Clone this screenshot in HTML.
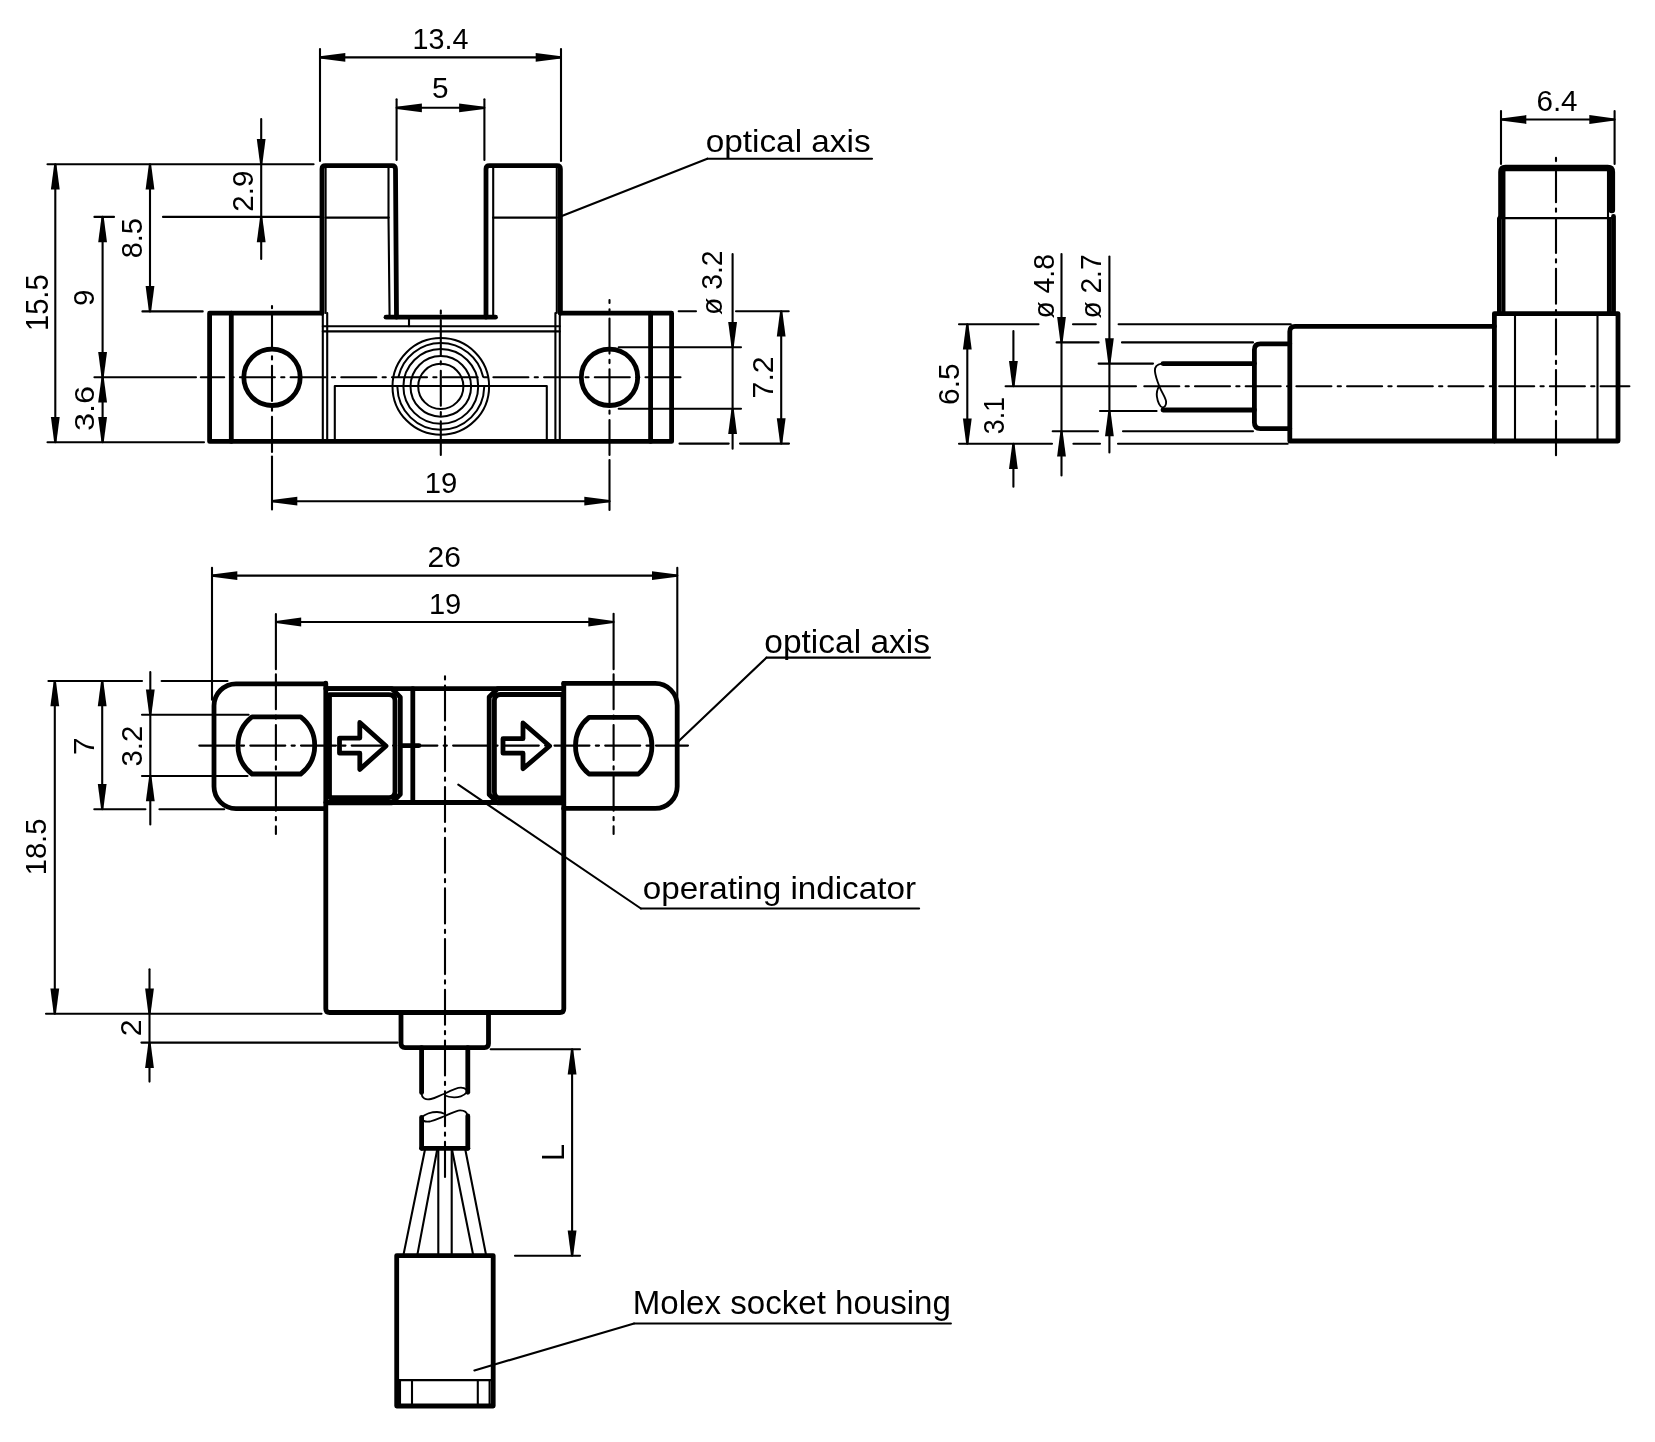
<!DOCTYPE html>
<html><head><meta charset="utf-8"><style>
html,body{margin:0;padding:0;background:#fff;width:1655px;height:1442px;overflow:hidden}
svg{display:block;will-change:transform}
svg line,svg path,svg circle,svg polyline{stroke:#000;fill:none;stroke-linecap:round;stroke-linejoin:round}
svg .f{fill:#000;stroke:none}
svg .t{fill:#000;font-family:"Liberation Sans",sans-serif}
</style></head><body>
<svg width="1655" height="1442" viewBox="0 0 1655 1442">
<line x1="320" y1="49" x2="320" y2="161" stroke-width="2.1"/>
<line x1="561" y1="49" x2="561" y2="161" stroke-width="2.1"/>
<line x1="320" y1="57.4" x2="561" y2="57.4" stroke-width="2.1"/>
<polygon class="f" points="320,56.3 320,58.5 345.3,61.8 345.3,53"/>
<polygon class="f" points="561,56.3 561,58.5 535.7,61.8 535.7,53"/>
<text class="t" transform="translate(412.55,48.7) scale(0.9654,1)" font-size="29.74">13.4</text>
<line x1="396.6" y1="99.2" x2="396.6" y2="160" stroke-width="2.1"/>
<line x1="484.4" y1="99.2" x2="484.4" y2="160" stroke-width="2.1"/>
<line x1="396.6" y1="107.8" x2="484.4" y2="107.8" stroke-width="2.1"/>
<polygon class="f" points="396.6,106.7 396.6,108.9 421.9,112.2 421.9,103.4"/>
<polygon class="f" points="484.4,106.7 484.4,108.9 459.1,112.2 459.1,103.4"/>
<text class="t" transform="translate(432.01,98.4) scale(1.0002,1)" font-size="29.68">5</text>
<line x1="47.5" y1="164.2" x2="313.6" y2="164.2" stroke-width="2.1"/>
<line x1="47.5" y1="442.3" x2="204" y2="442.3" stroke-width="2.1"/>
<line x1="55.3" y1="164.2" x2="55.3" y2="442.3" stroke-width="2.1"/>
<polygon class="f" points="54.2,164.2 56.4,164.2 59.7,189.5 50.9,189.5"/>
<polygon class="f" points="54.2,442.3 56.4,442.3 59.7,417 50.9,417"/>
<text class="t" transform="translate(47.89,331.09) rotate(-90) scale(0.9511,1)" font-size="30.68">15.5</text>
<line x1="142.4" y1="311.4" x2="202.7" y2="311.4" stroke-width="2.1"/>
<line x1="150" y1="164.2" x2="150" y2="311.4" stroke-width="2.1"/>
<polygon class="f" points="148.9,164.2 151.1,164.2 154.4,189.5 145.6,189.5"/>
<polygon class="f" points="148.9,311.4 151.1,311.4 154.4,286.1 145.6,286.1"/>
<text class="t" transform="translate(142.41,258.33) rotate(-90) scale(0.9907,1)" font-size="29.26">8.5</text>
<line x1="94.4" y1="216.9" x2="114" y2="216.9" stroke-width="2.1"/>
<line x1="163" y1="216.9" x2="321" y2="216.9" stroke-width="2.1"/>
<line x1="102.6" y1="216.9" x2="102.6" y2="442.3" stroke-width="2.1"/>
<polygon class="f" points="101.5,216.9 103.7,216.9 107,242.2 98.2,242.2"/>
<polygon class="f" points="101.5,377.3 103.7,377.3 107,352 98.2,352"/>
<polygon class="f" points="101.5,377.3 103.7,377.3 107,402.6 98.2,402.6"/>
<polygon class="f" points="101.5,442.3 103.7,442.3 107,417 98.2,417"/>
<text class="t" transform="translate(93.51,306.11) rotate(-90) scale(1.0273,1)" font-size="28.83">9</text>
<text class="t" transform="translate(93.53,431.12) rotate(-90) scale(1.1887,1)" font-size="27.42">3.6</text>
<line x1="261.2" y1="119" x2="261.2" y2="259" stroke-width="2.1"/>
<polygon class="f" points="260.1,164.2 262.3,164.2 265.6,138.9 256.8,138.9"/>
<polygon class="f" points="260.1,216.9 262.3,216.9 265.6,242.2 256.8,242.2"/>
<text class="t" transform="translate(252.7,211.67) rotate(-90) scale(0.9891,1)" font-size="29.82">2.9</text>
<line x1="618.7" y1="347.2" x2="741" y2="347.2" stroke-width="2.1"/>
<line x1="618.7" y1="408.7" x2="741" y2="408.7" stroke-width="2.1"/>
<line x1="732.6" y1="254" x2="732.6" y2="448.7" stroke-width="2.1"/>
<polygon class="f" points="731.5,347.2 733.7,347.2 737,321.9 728.2,321.9"/>
<polygon class="f" points="731.5,408.7 733.7,408.7 737,434 728.2,434"/>
<text class="t" transform="translate(722.41,314.94) rotate(-90) scale(0.9593,1)" font-size="29.55">ø 3.2</text>
<line x1="678.7" y1="311.2" x2="696" y2="311.2" stroke-width="2.1"/>
<line x1="736" y1="311.2" x2="788.7" y2="311.2" stroke-width="2.1"/>
<line x1="679.5" y1="443.6" x2="728.7" y2="443.6" stroke-width="2.1"/>
<line x1="740" y1="443.6" x2="789" y2="443.6" stroke-width="2.1"/>
<line x1="781.2" y1="311.2" x2="781.2" y2="443.6" stroke-width="2.1"/>
<polygon class="f" points="780.1,311.2 782.3,311.2 785.6,336.5 776.8,336.5"/>
<polygon class="f" points="780.1,443.6 782.3,443.6 785.6,418.3 776.8,418.3"/>
<text class="t" transform="translate(773.1,398.39) rotate(-90) scale(1.0230,1)" font-size="29.53">7.2</text>
<line x1="272" y1="501.2" x2="609.6" y2="501.2" stroke-width="2.1"/>
<polygon class="f" points="272,500.1 272,502.3 297.3,505.6 297.3,496.8"/>
<polygon class="f" points="609.6,500.1 609.6,502.3 584.3,505.6 584.3,496.8"/>
<text class="t" transform="translate(424.8,492.7) scale(0.9869,1)" font-size="29.68">19</text>
<text class="t" transform="translate(705.68,152.4) scale(1.0421,1)" font-size="32.00">optical axis</text>
<line x1="561.2" y1="216.2" x2="707.3" y2="158.7" stroke-width="2.1"/>
<line x1="707.3" y1="158.7" x2="872" y2="158.7" stroke-width="2.1"/>
<path d="M322,313.2 L322,169 Q322,165.6 325.4,165.6 L392,165.6 Q395.4,165.6 395.5,169 L396.5,317.2" stroke-width="4.8"/>
<path d="M486,317.2 L486,169 Q486,165.6 489.4,165.6 L557,165.6 Q560.4,165.6 560.4,169 L560.4,313.2" stroke-width="4.8"/>
<line x1="386" y1="317.2" x2="495.5" y2="317.2" stroke-width="4.8"/>
<path d="M322,313.2 L209.6,313.2 L209.6,441.4 L671.6,441.4 L671.6,313.2 L560.4,313.2" stroke-width="4.8"/>
<line x1="231.3" y1="313.2" x2="231.3" y2="441.4" stroke-width="4.8"/>
<line x1="650.6" y1="313.2" x2="650.6" y2="441.4" stroke-width="4.8"/>
<circle cx="272" cy="377.3" r="28.2" stroke-width="4.8"/>
<circle cx="609.5" cy="377.3" r="28.2" stroke-width="4.8"/>
<line x1="325.6" y1="167" x2="325.6" y2="313" stroke-width="2.1"/>
<line x1="325.6" y1="217.6" x2="388.5" y2="217.6" stroke-width="2.1"/>
<line x1="388.5" y1="167" x2="388.5" y2="217.6" stroke-width="2.1"/>
<line x1="388.5" y1="217.6" x2="389.6" y2="317" stroke-width="2.1"/>
<line x1="556.8" y1="167" x2="556.8" y2="313" stroke-width="2.1"/>
<line x1="493" y1="217.6" x2="556.8" y2="217.6" stroke-width="2.1"/>
<line x1="493.2" y1="167" x2="493.2" y2="317" stroke-width="2.1"/>
<line x1="322.8" y1="313" x2="322.8" y2="441" stroke-width="2.1"/>
<line x1="327.2" y1="313" x2="327.2" y2="441" stroke-width="2.1"/>
<line x1="555.4" y1="313" x2="555.4" y2="441" stroke-width="2.1"/>
<line x1="559.8" y1="313" x2="559.8" y2="441" stroke-width="2.1"/>
<line x1="322.8" y1="326.2" x2="559.8" y2="326.2" stroke-width="2.1"/>
<line x1="322.8" y1="331.4" x2="559.8" y2="331.4" stroke-width="2.1"/>
<line x1="409" y1="317" x2="409" y2="326.2" stroke-width="2.1"/>
<path d="M334.8,441 L334.8,386 L546.8,386 L546.8,441" stroke-width="2.1"/>
<circle cx="440.8" cy="386.4" r="48.3" stroke-width="2.0"/>
<circle cx="440.8" cy="386.4" r="37.4" stroke-width="2.0"/>
<circle cx="440.8" cy="386.4" r="30.3" stroke-width="2.0"/>
<circle cx="440.8" cy="386.4" r="22.6" stroke-width="2.0"/>
<path d="M484.19,387.27 A43.4,43.4 0 0 1 397.41,387.27" stroke-width="2.0"/>
<path d="M398.49,376.75 A43.4,43.4 0 0 1 483.11,376.75" stroke-width="2.0"/>
<line x1="94.4" y1="377.3" x2="196" y2="377.3" stroke-width="2.1"/>
<line x1="200.8" y1="377.3" x2="681" y2="377.3" stroke-width="2.1" stroke-dasharray="35 6.3 3.2 6.2" stroke-dashoffset="11.6"/>
<line x1="272" y1="306" x2="272" y2="452" stroke-width="2.1" stroke-dasharray="35.35 6.36 3.23 6.26" stroke-dashoffset="42.7"/>
<line x1="272" y1="456.6" x2="272" y2="509.4" stroke-width="2.1"/>
<line x1="609.5" y1="300" x2="609.5" y2="455.4" stroke-width="2.1" stroke-dasharray="35 6.3 3.2 6.2" stroke-dashoffset="32.1"/>
<line x1="609.5" y1="460" x2="609.5" y2="510" stroke-width="2.1"/>
<line x1="440.8" y1="309" x2="440.8" y2="455" stroke-width="2.1" stroke-dasharray="35 6.3 3.2 6.2" stroke-dashoffset="39.7"/>
<line x1="1501" y1="111" x2="1501" y2="164" stroke-width="2.1"/>
<line x1="1614.6" y1="111" x2="1614.6" y2="164" stroke-width="2.1"/>
<line x1="1501" y1="119.5" x2="1614.6" y2="119.5" stroke-width="2.1"/>
<polygon class="f" points="1501,118.4 1501,120.6 1526.3,123.9 1526.3,115.1"/>
<polygon class="f" points="1614.6,118.4 1614.6,120.6 1589.3,123.9 1589.3,115.1"/>
<text class="t" transform="translate(1536.42,110.8) scale(0.9891,1)" font-size="29.96">6.4</text>
<path d="M1501.5,216 L1501.5,172 Q1501.5,168 1505.5,168 L1607.8,168 Q1611.8,168 1611.8,172 L1611.8,210" stroke-width="6.6"/>
<line x1="1504.4" y1="168" x2="1504.4" y2="313" stroke-width="2.1"/>
<line x1="1608" y1="168" x2="1608" y2="313" stroke-width="2.1"/>
<line x1="1502" y1="218.1" x2="1611" y2="218.1" stroke-width="2.1"/>
<path d="M1501.5,216 L1499.4,218.5 L1499.4,313.5" stroke-width="4.8"/>
<path d="M1613.5,216.5 L1613.5,313.5" stroke-width="4.8"/>
<line x1="1503" y1="218" x2="1503" y2="313" stroke-width="2.1"/>
<line x1="1610" y1="218" x2="1610" y2="313" stroke-width="2.1"/>
<path d="M1494.4,313.6 L1618,313.6 L1618,441 L1494.4,441 Z" stroke-width="4.8"/>
<line x1="1515" y1="313.6" x2="1515" y2="441" stroke-width="2.1"/>
<line x1="1597.5" y1="313.6" x2="1597.5" y2="441" stroke-width="2.1"/>
<path d="M1494.4,326.3 L1295,326.3 Q1289.8,326.3 1289.8,331.5 L1289.8,441 L1494.4,441" stroke-width="4.8"/>
<path d="M1289.8,343.8 L1260.4,343.8 Q1254.4,343.8 1254.4,349.8 L1254.4,422.6 Q1254.4,428.6 1260.4,428.6 L1289.8,428.6" stroke-width="4.8"/>
<line x1="1163" y1="363.6" x2="1254.4" y2="363.6" stroke-width="4.8"/>
<line x1="1163" y1="410" x2="1254.4" y2="410" stroke-width="4.8"/>
<path d="M1161.8,363.6 C1156.5,364.3 1154.6,367 1154.9,371 C1155.4,376.5 1157.6,382 1159.6,387 C1161.8,392.5 1165.6,397.5 1166.1,401.5 C1166.5,405.5 1164.3,407.6 1162.5,407.4 C1160,407.1 1157.6,402 1156.9,396.5 C1156.4,392 1157.6,388.5 1159.4,386" stroke-width="1.9"/>
<line x1="1556" y1="156.7" x2="1556" y2="455.2" stroke-width="2.1" stroke-dasharray="35 6.3 3.2 6.2" stroke-dashoffset="40.1"/>
<line x1="1005.6" y1="386.3" x2="1136" y2="386.3" stroke-width="2.1"/>
<line x1="1144.3" y1="386.3" x2="1629.4" y2="386.3" stroke-width="2.1" stroke-dasharray="35 6.3 3.2 6.2" stroke-dashoffset="0"/>
<line x1="959" y1="324.2" x2="1038.5" y2="324.2" stroke-width="2.1"/>
<line x1="1073" y1="324.2" x2="1095.8" y2="324.2" stroke-width="2.1"/>
<line x1="1118.6" y1="324.2" x2="1290.8" y2="324.2" stroke-width="2.1"/>
<line x1="959" y1="443.7" x2="1052" y2="443.7" stroke-width="2.1"/>
<line x1="1073.4" y1="443.7" x2="1100" y2="443.7" stroke-width="2.1"/>
<line x1="1118" y1="443.7" x2="1287.7" y2="443.7" stroke-width="2.1"/>
<line x1="1056.6" y1="342.4" x2="1098.6" y2="342.4" stroke-width="2.1"/>
<line x1="1122" y1="342.4" x2="1253" y2="342.4" stroke-width="2.1"/>
<line x1="1052.7" y1="431.2" x2="1098" y2="431.2" stroke-width="2.1"/>
<line x1="1123" y1="431.2" x2="1253" y2="431.2" stroke-width="2.1"/>
<line x1="1098.6" y1="363.6" x2="1153" y2="363.6" stroke-width="2.1"/>
<line x1="1100" y1="411" x2="1156.6" y2="411" stroke-width="2.1"/>
<line x1="967.3" y1="324.2" x2="967.3" y2="443.7" stroke-width="2.1"/>
<polygon class="f" points="966.2,324.2 968.4,324.2 971.7,349.5 962.9,349.5"/>
<polygon class="f" points="966.2,443.7 968.4,443.7 971.7,418.4 962.9,418.4"/>
<text class="t" transform="translate(959.3,405) rotate(-90) scale(1.0081,1)" font-size="29.68">6.5</text>
<line x1="1013.4" y1="331" x2="1013.4" y2="386.3" stroke-width="2.1"/>
<polygon class="f" points="1012.3,386.3 1014.5,386.3 1017.8,361 1009,361"/>
<line x1="1013.4" y1="443.7" x2="1013.4" y2="486.8" stroke-width="2.1"/>
<polygon class="f" points="1012.3,443.7 1014.5,443.7 1017.8,469 1009,469"/>
<text class="t" transform="translate(1004.21,434.21) rotate(-90) scale(0.9256,1)" font-size="28.98">3.1</text>
<line x1="1061.5" y1="254" x2="1061.5" y2="475.4" stroke-width="2.1"/>
<polygon class="f" points="1060.4,342.4 1062.6,342.4 1065.9,317.1 1057.1,317.1"/>
<polygon class="f" points="1060.4,431.2 1062.6,431.2 1065.9,456.5 1057.1,456.5"/>
<text class="t" transform="translate(1053.91,318.54) rotate(-90) scale(0.9621,1)" font-size="29.41">ø 4.8</text>
<line x1="1109.4" y1="256.5" x2="1109.4" y2="452.4" stroke-width="2.1"/>
<polygon class="f" points="1108.3,363.6 1110.5,363.6 1113.8,338.3 1105,338.3"/>
<polygon class="f" points="1108.3,411 1110.5,411 1113.8,436.3 1105,436.3"/>
<text class="t" transform="translate(1101.41,318.53) rotate(-90) scale(0.9561,1)" font-size="29.41">ø 2.7</text>
<line x1="212" y1="567.7" x2="212" y2="699.8" stroke-width="2.1"/>
<line x1="677.3" y1="567.8" x2="677.3" y2="699.6" stroke-width="2.1"/>
<line x1="212" y1="575.6" x2="677.3" y2="575.6" stroke-width="2.1"/>
<polygon class="f" points="212,574.5 212,576.7 237.3,580 237.3,571.2"/>
<polygon class="f" points="677.3,574.5 677.3,576.7 652,580 652,571.2"/>
<text class="t" transform="translate(427.6,566.9) scale(0.9910,1)" font-size="30.25">26</text>
<line x1="275.9" y1="622" x2="613.6" y2="622" stroke-width="2.1"/>
<polygon class="f" points="275.9,620.9 275.9,623.1 301.2,626.4 301.2,617.6"/>
<polygon class="f" points="613.6,620.9 613.6,623.1 588.3,626.4 588.3,617.6"/>
<line x1="275.9" y1="614" x2="275.9" y2="669.3" stroke-width="2.1"/>
<line x1="613.6" y1="613.7" x2="613.6" y2="669.3" stroke-width="2.1"/>
<text class="t" transform="translate(428.92,613.7) scale(0.9801,1)" font-size="29.68">19</text>
<line x1="48.4" y1="681" x2="142" y2="681" stroke-width="2.1"/>
<line x1="161.6" y1="681" x2="227.5" y2="681" stroke-width="2.1"/>
<line x1="46" y1="1013.8" x2="321.5" y2="1013.8" stroke-width="2.1"/>
<line x1="54.8" y1="681" x2="54.8" y2="1013.8" stroke-width="2.1"/>
<polygon class="f" points="53.7,681 55.9,681 59.2,706.3 50.4,706.3"/>
<polygon class="f" points="53.7,1013.8 55.9,1013.8 59.2,988.5 50.4,988.5"/>
<text class="t" transform="translate(46.3,875.28) rotate(-90) scale(0.9766,1)" font-size="29.82">18.5</text>
<line x1="94.3" y1="809.2" x2="145.4" y2="809.2" stroke-width="2.1"/>
<line x1="159.4" y1="809.2" x2="224.2" y2="809.2" stroke-width="2.1"/>
<line x1="102.2" y1="681" x2="102.2" y2="809.2" stroke-width="2.1"/>
<polygon class="f" points="101.1,681 103.3,681 106.6,706.3 97.8,706.3"/>
<polygon class="f" points="101.1,809.2 103.3,809.2 106.6,783.9 97.8,783.9"/>
<text class="t" transform="translate(93.8,754.97) rotate(-90) scale(1.0939,1)" font-size="29.09">7</text>
<line x1="142" y1="714.7" x2="248.6" y2="714.7" stroke-width="2.1"/>
<line x1="142" y1="776" x2="247.5" y2="776" stroke-width="2.1"/>
<line x1="150.3" y1="672" x2="150.3" y2="824.5" stroke-width="2.1"/>
<polygon class="f" points="149.2,714.7 151.4,714.7 154.7,689.4 145.9,689.4"/>
<polygon class="f" points="149.2,776 151.4,776 154.7,801.3 145.9,801.3"/>
<text class="t" transform="translate(142.3,766.6) rotate(-90) scale(0.9860,1)" font-size="29.82">3.2</text>
<line x1="141.4" y1="1042.6" x2="397.6" y2="1042.6" stroke-width="2.1"/>
<line x1="149.5" y1="969.2" x2="149.5" y2="1081.6" stroke-width="2.1"/>
<polygon class="f" points="148.4,1013.8 150.6,1013.8 153.9,988.5 145.1,988.5"/>
<polygon class="f" points="148.4,1042.6 150.6,1042.6 153.9,1067.9 145.1,1067.9"/>
<text class="t" transform="translate(140.7,1036.31) rotate(-90) scale(1.0195,1)" font-size="29.53">2</text>
<line x1="490.7" y1="1049.2" x2="580" y2="1049.2" stroke-width="2.1"/>
<line x1="515" y1="1255.8" x2="580" y2="1255.8" stroke-width="2.1"/>
<line x1="572.1" y1="1049.2" x2="572.1" y2="1255.8" stroke-width="2.1"/>
<polygon class="f" points="571,1049.2 573.2,1049.2 576.5,1074.5 567.7,1074.5"/>
<polygon class="f" points="571,1255.8 573.2,1255.8 576.5,1230.5 567.7,1230.5"/>
<text class="t" transform="translate(563.5,1160.91) rotate(-90) scale(0.9784,1)" font-size="31.13">L</text>
<path d="M325.4,683.8 L236,683.8 A22,22 0 0 0 214,705.8 L214,786.6 A22,22 0 0 0 236,808.6 L325.4,808.6" stroke-width="4.8"/>
<path d="M563.6,683.4 L655.2,683.4 A22,22 0 0 1 677.2,705.4 L677.2,786.4 A22,22 0 0 1 655.2,808.4 L563.6,808.4" stroke-width="4.8"/>
<path d="M325.8,683.2 L325.8,1008.7 Q325.8,1012.5 329.6,1012.5 L560,1012.5 Q563.8,1012.5 563.8,1008.7 L563.8,683.4" stroke-width="4.8"/>
<line x1="325.8" y1="688.7" x2="563.6" y2="688.7" stroke-width="4.8"/>
<line x1="325.8" y1="802.5" x2="563.6" y2="802.5" stroke-width="4.8"/>
<path d="M327.5,688.7 L392,688.7 L400.3,697.2 L400.3,794.3 L392,802.8 L327.5,802.8" stroke-width="4.8"/>
<path d="M329.5,694.7 L389,694.7 Q395,694.7 395,700.7 L395,791.6 Q395,797.6 389,797.6 L329.5,797.6 Z" stroke-width="4.8"/>
<line x1="412.8" y1="688.7" x2="412.8" y2="802.5" stroke-width="4.8"/>
<path d="M563.6,688.7 L497.5,688.7 L489.2,697 L489.2,794.5 L497.5,802.9 L563.6,802.9" stroke-width="4.8"/>
<path d="M563,694.5 L500.4,694.5 Q494.4,694.5 494.4,700.5 L494.4,791.9 Q494.4,797.9 500.4,797.9 L563,797.9 Z" stroke-width="4.8"/>
<path d="M339.5,738.1 L359.8,738.1 L359.8,722.5 L386,746 L359.8,769.4 L359.8,753.2 L339.5,753.2 Z" stroke-width="4.8"/>
<path d="M503,738.7 L523,738.7 L523,723 L549.6,746 L523,768.8 L523,753.2 L503,753.2 Z" stroke-width="4.8"/>
<path d="M252,716.9 L300.7,716.9 A36.1,36.1 0 0 1 300.7,774 L252,774 A36.1,36.1 0 0 1 252,716.9 Z" stroke-width="4.8"/>
<path d="M589,717.3 L638.4,717.3 A36.5,36.5 0 0 1 638.4,774 L589,774 A36.5,36.5 0 0 1 589,717.3 Z" stroke-width="4.8"/>
<line x1="199.3" y1="745.6" x2="234.7" y2="745.6" stroke-width="2.1"/>
<line x1="234.7" y1="745.6" x2="688" y2="745.6" stroke-width="2.1" stroke-dasharray="35 6.3 3.2 6.2" stroke-dashoffset="35.1"/>
<line x1="402.4" y1="745.6" x2="419" y2="745.6" stroke-width="4.8"/>
<line x1="275.9" y1="674.3" x2="275.9" y2="834" stroke-width="2.1" stroke-dasharray="35 6.3 3.2 6.2" stroke-dashoffset="0"/>
<line x1="613.6" y1="674.3" x2="613.6" y2="834" stroke-width="2.1" stroke-dasharray="35 6.3 3.2 6.2" stroke-dashoffset="0"/>
<line x1="445" y1="676.2" x2="445" y2="1178.3" stroke-width="2.1" stroke-dasharray="35 6.3 3.2 6.2" stroke-dashoffset="41.3"/>
<path d="M401,1012.5 L401,1043.5 Q401,1047.6 405,1047.6 L484.5,1047.6 Q488.5,1047.6 488.5,1043.5 L488.5,1013.4" stroke-width="4.8"/>
<line x1="421.6" y1="1047.6" x2="421.6" y2="1092.6" stroke-width="4.8"/>
<line x1="467.8" y1="1047.6" x2="467.8" y2="1092.3" stroke-width="4.8"/>
<path d="M421.4,1092 C421.5,1099 426,1100 431,1099 C436,1098 440,1095 445,1093.5 C452,1090 458,1087.5 461,1087.7 C466,1088 467.5,1090.5 466.5,1092.5 C464,1096 458,1097.5 454,1097.4 C450,1097.2 447,1096.5 445,1095.5" stroke-width="1.8"/>
<line x1="421.6" y1="1117.5" x2="421.6" y2="1148.3" stroke-width="4.8"/>
<line x1="467.8" y1="1116" x2="467.8" y2="1148.3" stroke-width="4.8"/>
<line x1="421.6" y1="1148.3" x2="467.8" y2="1148.3" stroke-width="4.8"/>
<path d="M421.4,1117.5 C425,1114 432,1112 437,1112 C441,1112 443,1113 445,1114" stroke-width="1.8"/>
<path d="M421.8,1119 C423,1121.5 426,1122 430,1121.5 C436,1120 440,1118 445,1116 C452,1113 456,1110.5 460,1110.3 C464,1110.2 467,1112 467.8,1116" stroke-width="1.8"/>
<line x1="425.3" y1="1148" x2="403.3" y2="1255.6" stroke-width="2.1"/>
<line x1="437.5" y1="1148" x2="417.2" y2="1255.6" stroke-width="2.1"/>
<line x1="438.3" y1="1148" x2="438.3" y2="1255.6" stroke-width="2.1"/>
<line x1="451.7" y1="1148" x2="451.7" y2="1255.6" stroke-width="2.1"/>
<line x1="451.7" y1="1148" x2="473.3" y2="1255.6" stroke-width="2.1"/>
<line x1="465" y1="1148" x2="486.2" y2="1255.6" stroke-width="2.1"/>
<path d="M396.7,1255.6 L493.2,1255.6 L493.2,1406 L396.7,1406 Z" stroke-width="4.8"/>
<line x1="396.7" y1="1380.1" x2="493.2" y2="1380.1" stroke-width="2.1"/>
<line x1="400" y1="1380.1" x2="400" y2="1404" stroke-width="2.1"/>
<line x1="489.6" y1="1380.1" x2="489.6" y2="1404" stroke-width="2.1"/>
<line x1="412" y1="1380.1" x2="412" y2="1406" stroke-width="2.1"/>
<line x1="477.8" y1="1380.1" x2="477.8" y2="1406" stroke-width="2.1"/>
<text class="t" transform="translate(642.69,899.4) scale(1.0381,1)" font-size="32.00">operating indicator</text>
<line x1="458.3" y1="784.6" x2="640.9" y2="908.5" stroke-width="2.1"/>
<line x1="640.9" y1="908.5" x2="919.1" y2="908.5" stroke-width="2.1"/>
<text class="t" transform="translate(764.27,652.6) scale(1.0301,1)" font-size="32.55">optical axis</text>
<line x1="676.7" y1="743" x2="766.6" y2="657.6" stroke-width="2.1"/>
<line x1="766.6" y1="657.6" x2="930" y2="657.6" stroke-width="2.1"/>
<text class="t" transform="translate(632.77,1314) scale(0.9874,1)" font-size="33.52">Molex socket housing</text>
<line x1="474.4" y1="1370.4" x2="634.1" y2="1323.5" stroke-width="2.1"/>
<line x1="634.1" y1="1323.5" x2="950.9" y2="1323.5" stroke-width="2.1"/>
</svg></body></html>
